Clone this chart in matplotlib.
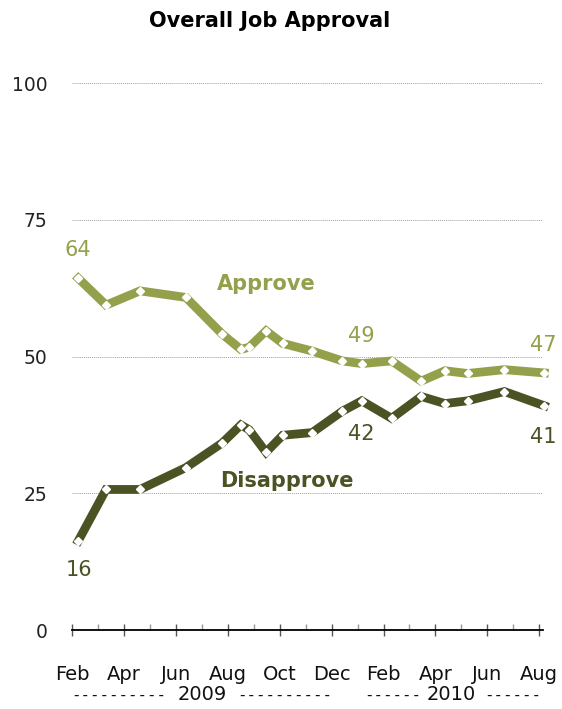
import matplotlib.pyplot as plt

# months after Feb 2009
approve_x = [0.23, 1.30, 2.61, 4.38, 5.78, 6.50, 6.82, 7.47, 8.11, 9.25,
             10.41, 11.16, 12.31, 13.45, 14.37, 15.24, 16.66, 18.2]
approve = [64.3, 59.4, 62.0, 60.8, 54.1, 51.3, 51.7, 54.7, 52.4, 51.0,
           49.2, 48.7, 49.2, 45.5, 47.4, 46.9, 47.6, 47.0]
disapprove = [16.3, 25.7, 25.7, 29.7, 34.2, 37.5, 36.6, 32.5, 35.6, 36.1,
              40.0, 41.9, 38.7, 42.7, 41.4, 41.9, 43.6, 41.0]

month_ticks = list(range(0, 19, 2))
month_labels = ["Feb", "Apr", "Jun", "Aug", "Oct", "Dec",
                "Feb", "Apr", "Jun", "Aug"]
y_ticks = [0, 25, 50, 75, 100]

c_app = "#95A04C"
c_dis = "#4B5224"

fig = plt.figure(figsize=(5.62, 7.09), dpi=100)
ax = fig.add_axes([0.1287, 0.1114, 0.838, 0.7715])

ax.plot(approve_x, approve, color=c_app, lw=6.3, solid_joinstyle='miter',
        marker='D', ms=4.3, mfc='white', mec='white', clip_on=False, zorder=3)
ax.plot(approve_x, disapprove, color=c_dis, lw=6.3, solid_joinstyle='miter',
        marker='D', ms=4.3, mfc='white', mec='white', clip_on=False, zorder=3)

ax.set_xlim(0, 18.16)
ax.set_ylim(0, 100)
for s in ['top', 'right', 'left']:
    ax.spines[s].set_visible(False)
ax.spines['bottom'].set_linewidth(1.3)

ax.set_yticks(y_ticks)
ax.set_yticklabels([str(v) for v in y_ticks], fontsize=13.5, color='#222222')
ax.tick_params(axis='y', length=0, pad=18)
for v in y_ticks[1:]:
    ax.axhline(v, color='#a0a0a0', lw=0.7, ls=(0, (1, 1)), zorder=1)

ax.set_xticks(month_ticks)
ax.set_xticklabels(month_labels, fontsize=14, color='#111111')
ax.set_xticks(range(1, 19, 2), minor=True)
ax.tick_params(axis='x', which='major', direction='inout', length=8,
               width=1, color='#555555', pad=21)
ax.tick_params(axis='x', which='minor', direction='in', length=4,
               width=1, color='#999999')

fig.text(270 / 562, 1 - 21 / 709, "Overall Job Approval", fontsize=15,
         fontweight='bold', ha='center', va='center')

ax.text(7.49, 63.3, "Approve", color=c_app, fontsize=15, fontweight='bold',
        ha='center', va='center')
ax.text(8.28, 27.2, "Disapprove", color=c_dis, fontsize=15,
        fontweight='bold', ha='center', va='center')

ax.text(0.22, 69.4, "64", color=c_app, fontsize=15, ha='center', va='center')
ax.text(0.26, 10.9, "16", color=c_dis, fontsize=15, ha='center', va='center')
ax.text(11.15, 53.7, "49", color=c_app, fontsize=15, ha='center', va='center')
ax.text(11.15, 35.9, "42", color=c_dis, fontsize=15, ha='center', va='center')
ax.text(18.15, 52.1, "47", color=c_app, fontsize=15, ha='center', va='center')
ax.text(18.15, 35.3, "41", color=c_dis, fontsize=15, ha='center', va='center')

# year line under the month labels
yy = 1 - 695 / 709
dash_kw = dict(fontsize=11.3, family='DejaVu Sans Mono', va='center',
               color='#111111')
fig.text(166.5 / 562, yy, "----------", ha='right', **dash_kw)
fig.text(202 / 562, yy, "2009", fontsize=14, ha='center', va='center',
         color='#111111')
fig.text(237 / 562, yy, "----------", ha='left', **dash_kw)
fig.text(421 / 562, yy, "------", ha='right', **dash_kw)
fig.text(451 / 562, yy, "2010", fontsize=14, ha='center', va='center',
         color='#111111')
fig.text(484 / 562, yy, "------", ha='left', **dash_kw)

fig.savefig("out.png", dpi=100)
